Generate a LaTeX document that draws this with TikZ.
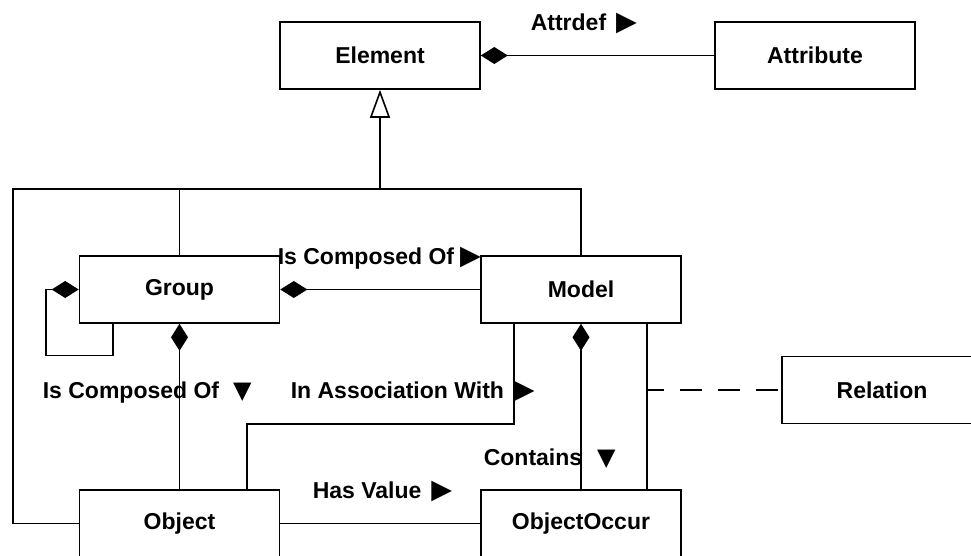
\documentclass[tikz,border=0pt]{standalone}
\usepackage{fontspec}
\setmainfont{Liberation Sans}
\newfontfamily\symfont{DejaVu Sans}
\usetikzlibrary{arrows.meta}
\newcommand\trir{{\symfont\fontsize{27}{27}\selectfont ▶}}
\newcommand\trid{{\symfont\fontsize{24}{24}\selectfont ▼}}
\begin{document}
\begin{tikzpicture}[x=1pt,y=-1pt, line width=1.6pt,
  box/.style={draw, minimum width=200pt, minimum height=67pt, inner sep=0pt, font=\fontsize{23}{27}\selectfont\bfseries},
  lbl/.style={inner sep=0pt, anchor=base west, font=\fontsize{23}{27}\selectfont\bfseries},
  diam/.style={{Diamond[length=27pt,width=17pt]}-},
  gen/.style={{Triangle[open,length=28pt,width=20pt]}-},
  dashline/.style={dash pattern=on 22pt off 16pt, dash phase=5pt}]
\clip (0,0) rectangle (971,556);
\fill[white] (0,0) rectangle (971,556);
% boxes
\node[box] (el) at (380,55.5) {Element};
\node[box] (at) at (815,55.5) {Attribute};
\node[box] (gr) at (179.5,289.5) {Group};
\node[box] (mo) at (581,289.5) {Model};
\node[box] (ob) at (179.5,523.5) {Object};
\node[box] (oo) at (581,523.5) {ObjectOccur};
\node[box] (re) at (882,390) {Relation};
% junction coordinates
\coordinate (busL) at (13,189);
\coordinate (dj) at (647,390);
% connectors
\draw[diam] (el.east) -- (at.west);
\draw[gen] (el.south) -- (el.south |- busL);
\draw (ob.west) -| (busL) -| (mo.north);
\draw (gr.north) -- (gr.north |- busL);
\draw[diam] (gr.west) -- ++(-33,0) -- ++(0,66) -| ([xshift=-66.5pt]gr.south);
\draw[diam] (gr.south) -- (ob.north);
\draw[diam] (gr.east) -- (mo.west);
\draw[diam] (mo.south) -- (oo.north);
\draw ([xshift=-67pt]mo.south) -- ++(0,100) -| ([xshift=67.5pt]ob.north);
\draw ([xshift=66pt]mo.south) -- ([xshift=66pt]oo.north);
\draw[dashline] (dj) -- (re.west);
\draw (ob.east) -- (oo.west);
% labels
\node[lbl] (l1) at (530,31) {Attrdef\hspace{10pt}\trir};
\node[lbl] (l2) at (277,264) {Is Composed Of\hspace{6pt}\trir};
\node[lbl] (l3) at (42,398) {Is Composed Of\hspace{14pt}\trid};
\node[lbl] (l4) at (290,398) {In Association With\hspace{10pt}\trir};
\node[lbl] (l5) at (483,465) {Contains\hspace{15pt}\trid};
\node[lbl] (l6) at (312,498) {Has Value\hspace{10pt}\trir};
\end{tikzpicture}
\end{document}
